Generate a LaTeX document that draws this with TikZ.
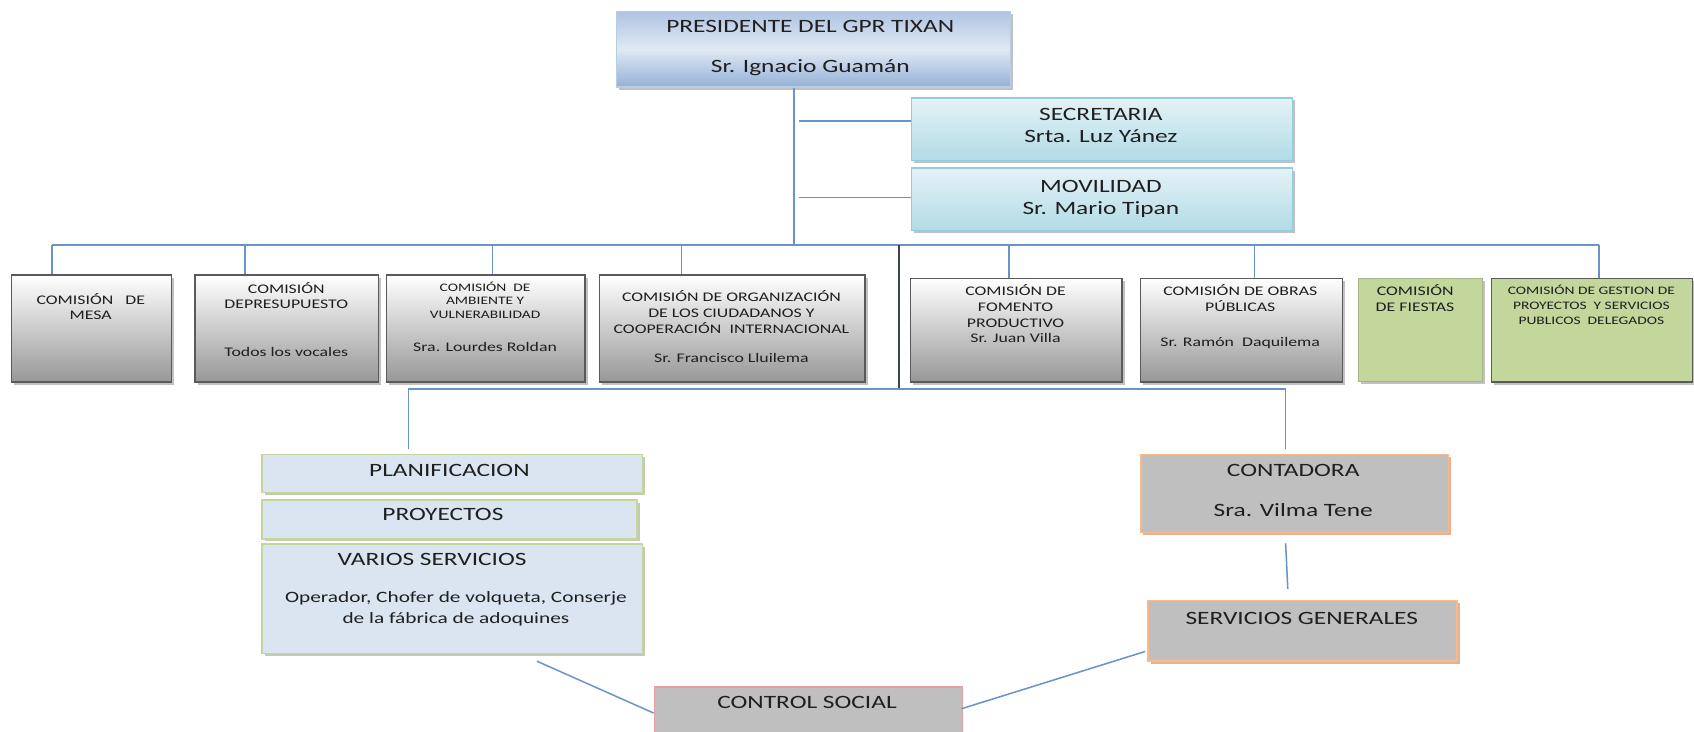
\documentclass[tikz,border=0pt]{standalone}
\usepackage{fontspec}
\setmainfont[FakeStretch=1.35]{Carlito}
\usetikzlibrary{shadows}
\definecolor{cline}{HTML}{6A93C9}
\definecolor{darkline}{HTML}{3C4552}
\definecolor{gborder}{HTML}{5A5A5A}
\definecolor{ggray}{HTML}{979797}
\definecolor{pb1}{HTML}{AFC4E2}
\definecolor{pb2}{HTML}{E0E9F4}
\definecolor{pb3}{HTML}{94B0D6}
\definecolor{pborder}{HTML}{B8CCE4}
\definecolor{sc1}{HTML}{E4F2F7}
\definecolor{sc2}{HTML}{B2DBE6}
\definecolor{sborder}{HTML}{93CDDD}
\definecolor{grn}{HTML}{C3D69B}
\definecolor{plfill}{HTML}{DBE5F1}
\definecolor{cgray}{HTML}{BFBFBF}
\definecolor{oborder}{HTML}{F9B98A}
\definecolor{oshadow}{HTML}{D9A07A}
\definecolor{rborder}{HTML}{E3A0A0}
\definecolor{tcol}{HTML}{1F1F1F}
\newcommand{\fsz}[1]{\fontsize{#1}{#1}\selectfont}
\newcommand{\mybox}[6]{%
  \node[#2, minimum width={(#5-#3)*0.5pt}, minimum height={(#6-#4)*0.5pt},
        anchor=north west, inner sep=0pt] (#1) at (#3,#4) {};}
\tikzset{
  con/.style={draw=cline, line width=0.7pt},
  darkcon/.style={draw=darkline, line width=0.8pt},
  shad/.style={drop shadow={shadow xshift=1.2pt, shadow yshift=-1.2pt, opacity=0.4, fill=black!60}},
  gbox/.style={draw=gborder, line width=0.6pt, top color=white, bottom color=ggray, shad},
  presbox/.style={draw=pborder, line width=0.6pt, top color=pb1, bottom color=pb3, middle color=pb2, shad},
  secbox/.style={draw=sborder, line width=0.6pt, top color=sc1, bottom color=sc2, shad},
  greenbox/.style={fill=grn, draw=grn!85!black, line width=0.3pt, shad},
  greenbox2/.style={fill=grn, draw=gborder, line width=0.6pt, shad},
  planbox/.style={fill=plfill, draw=grn, line width=0.8pt, drop shadow={shadow xshift=1.2pt, shadow yshift=-1.2pt, opacity=0.6, fill=grn!80!black}},
  contbox/.style={fill=cgray, draw=oborder, line width=0.8pt, drop shadow={shadow xshift=1.2pt, shadow yshift=-1.2pt, opacity=0.8, fill=oshadow}},
  ctrlbox/.style={fill=cgray, draw=rborder, line width=0.8pt},
  txt/.style={inner sep=0pt, text=tcol, anchor=mid, align=center},
  big/.style={txt, font=\fsz{8.7}},
  sml/.style={txt, font=\fsz{6.1}},
  tiny/.style={txt, font=\fsz{5.3}}
}
\begin{document}
\begin{tikzpicture}[x=0.5pt,y=-0.5pt]
\clip (0,0) rectangle (1568,677);
\fill[white] (0,0) rectangle (1568,677);

% ---------- top boxes
\mybox{pres}{presbox}{570}{10}{935}{80}
\mybox{sec}{secbox}{843}{90}{1196}{148}
\mybox{mov}{secbox}{843}{155}{1196}{213}

% ---------- commission boxes
\mybox{mesa}{gbox}{10}{254}{158}{353}
\mybox{presu}{gbox}{180}{254}{350}{353}
\mybox{amb}{gbox}{357}{254}{541}{353}
\mybox{org}{gbox}{554}{254}{800}{353}
\mybox{fom}{gbox}{842}{257}{1038}{353}
\mybox{obras}{gbox}{1055}{257}{1242}{353}
\mybox{fiestas}{greenbox}{1257}{257}{1372}{353}
\mybox{gest}{greenbox2}{1380}{257}{1566}{353}

% ---------- lower boxes
\mybox{plan}{planbox}{242}{420}{594}{455}
\mybox{proy}{planbox}{242}{462}{589}{498}
\mybox{varios}{planbox}{242}{503}{594}{604}
\mybox{cont}{contbox}{1055}{420}{1340}{492}
\mybox{serv}{contbox}{1062}{555}{1348}{611}
\mybox{ctrl}{ctrlbox}{605}{635}{890}{700}

% ---------- connector coordinates
\coordinate (trunk) at (735,227);
\coordinate (busL) at (48,227);
\coordinate (busR) at (1480,227);
\coordinate (s1) at (740,112);
\coordinate (m1) at (740,183);
\coordinate (d2) at (227,227);
\coordinate (d3) at (456,227);
\coordinate (d4) at (631,227);
\coordinate (d5) at (934,227);
\coordinate (d6) at (1161,227);
\coordinate (dk1) at (832,227);
\coordinate (dk2) at (832,360);
\coordinate (lbL) at (378,360);
\coordinate (lbR) at (1190,360);
\coordinate (c1) at (1190,503);
\coordinate (c2) at (1192,545);
\coordinate (v1) at (497,612);
\coordinate (v2) at (605,660);
\coordinate (g1) at (1060,603);
\coordinate (g2) at (890,656);

% ---------- connectors
\draw[con] (trunk |- pres.south) -- (trunk);
\draw[con] (s1) -- (s1 -| sec.west);
\draw[con] (m1) -- (m1 -| mov.west);
\draw[con] (busL) -- (busR);
\draw[con] (busL) -- (busL |- mesa.north);
\draw[con] (d2) -- (d2 |- presu.north);
\draw[con] (d3) -- (d3 |- amb.north);
\draw[con] (d4) -- (d4 |- org.north);
\draw[con] (d5) -- (d5 |- fom.north);
\draw[con] (d6) -- (d6 |- obras.north);
\draw[con] (busR) -- (busR |- gest.north);
\draw[darkcon] (dk1) -- (dk2);
\draw[con] (lbL) -- (lbR);
\draw[con] (lbL) -- ([yshift=2pt]lbL |- plan.north);
\draw[con] (lbR) -- ([yshift=2pt]lbR |- cont.north);
\draw[con] (c1) -- (c2);
\draw[con] (v1) -- (v2);
\draw[con] (g1) -- (g2);

% ---------- texts
\node[big] (tp1) at (750,25) {PRESIDENTE DEL GPR TIXAN};
\node[big] (tp2) at (750,62) {Sr. Ignacio Guamán};
\node[big] (ts1) at (1019,107) {SECRETARIA};
\node[big] (ts2) at (1019,127) {Srta. Luz Yánez};
\node[big] (tm1) at (1019,173) {MOVILIDAD};
\node[big] (tm2) at (1019,194) {Sr. Mario Tipan};

\node[sml] (ta1) at (84,277) {COMISIÓN\ \ \ DE};
\node[sml] (ta2) at (84,291) {MESA};
\node[sml] (tb1) at (265,267) {COMISIÓN};
\node[sml] (tb2) at (265,281) {DEPRESUPUESTO};
\node[sml] (tb3) at (265,325) {Todos los vocales};
\node[tiny] (tc1) at (449,265) {COMISIÓN\ \ DE};
\node[tiny] (tc2) at (449,277) {AMBIENTE Y};
\node[tiny] (tc3) at (449,290) {VULNERABILIDAD};
\node[sml] (tc4) at (449,321) {Sra. Lourdes Roldan};
\node[sml] (td1) at (677,274) {COMISIÓN\ DE ORGANIZACIÓN};
\node[sml] (td2) at (677,289) {DE LOS CIUDADANOS Y};
\node[sml] (td3) at (677,304) {COOPERACIÓN\ \ INTERNACIONAL};
\node[sml] (td4) at (677,331) {Sr. Francisco Lluilema};
\node[sml] (te1) at (940,269) {COMISIÓN DE};
\node[sml] (te2) at (940,284) {FOMENTO};
\node[sml] (te3) at (940,298) {PRODUCTIVO};
\node[sml] (te4) at (940,312) {Sr. Juan Villa};
\node[sml] (tf1) at (1148,269) {COMISIÓN\ DE OBRAS};
\node[sml] (tf2) at (1148,284) {PÚBLICAS};
\node[sml] (tf3) at (1148,316) {Sr. Ramón\ \ Daquilema};
\node[sml, anchor=mid west] (tg1) at (1274,269) {COMISIÓN};
\node[sml, anchor=mid west] (tg2) at (1273,284) {DE FIESTAS};
\node[tiny] (th1) at (1473,268) {COMISIÓN DE GESTION DE};
\node[tiny] (th2) at (1473,282) {PROYECTOS\ \ Y SERVICIOS};
\node[tiny] (th3) at (1473,296) {PUBLICOS\ \ DELEGADOS};

\node[big] (tk1) at (416,436) {PLANIFICACION};
\node[big] (tk2) at (410,477) {PROYECTOS};
\node[big] (tk3) at (400,519) {VARIOS SERVICIOS};
\node[txt, font=\fsz{7.3}] (tk4) at (422,553) {Operador, Chofer de volqueta, Conserje};
\node[txt, font=\fsz{7.3}] (tk5) at (422,572) {de la fábrica de adoquines};
\node[big] (tl1) at (1197,436) {CONTADORA};
\node[big] (tl2) at (1197,473) {Sra. Vilma Tene};
\node[big] (tl3) at (1205,573) {SERVICIOS GENERALES};
\node[big] (tl4) at (747,651) {CONTROL SOCIAL};
\end{tikzpicture}
\end{document}
